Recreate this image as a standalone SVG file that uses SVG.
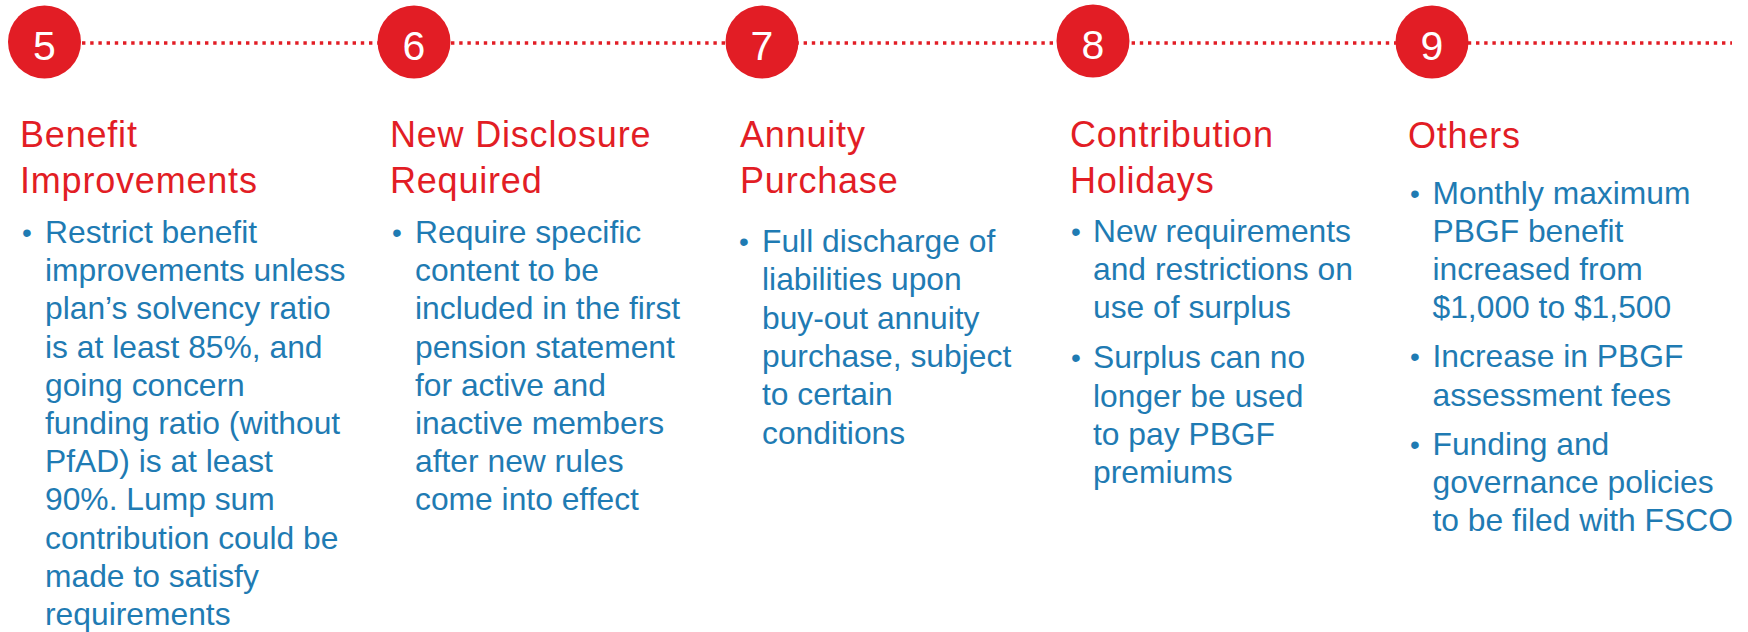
<svg xmlns="http://www.w3.org/2000/svg" width="1748" height="632" viewBox="0 0 1748 632">
  <style>
    .dot { fill: #E21D25; }
    .num { font-family: "Liberation Sans", Arial, sans-serif; font-size: 41px; fill: #FFFFFF; text-anchor: middle; }
    .head { font-family: "Liberation Sans", Arial, sans-serif; font-size: 36px; letter-spacing: 0.8px; fill: #E21D25; }
    .body { font-family: "Liberation Sans", Arial, sans-serif; font-size: 31.8px; fill: #1F7BB3; }
    .bul { font-family: "Liberation Sans", Arial, sans-serif; font-size: 28px; fill: #1F7BB3; }
    .timeline { stroke: #E21D25; stroke-width: 3.5; stroke-dasharray: 3.4 4.8; fill: none; }
  </style>
  <rect width="1748" height="632" fill="#FFFFFF"/>

  <!-- dotted timeline running behind the step markers -->
  <g id="connectors">
    <line class="timeline" x1="82" y1="43" x2="1732" y2="43"/>
  </g>

  <!-- step 5 -->
  <g id="step5">
    <circle class="dot" cx="44.5" cy="42" r="36.5"/>
    <text class="num" x="44.5" y="60">5</text>
    <text class="head"><tspan x="20" y="147">Benefit</tspan><tspan x="20" y="193">Improvements</tspan></text>
    <text class="bul" x="22" y="242">•</text>
    <text class="body">
      <tspan x="45" y="243">Restrict benefit</tspan>
      <tspan x="45" y="281.2">improvements unless</tspan>
      <tspan x="45" y="319.4">plan’s solvency ratio</tspan>
      <tspan x="45" y="357.6">is at least 85%, and</tspan>
      <tspan x="45" y="395.8">going concern</tspan>
      <tspan x="45" y="434">funding ratio (without</tspan>
      <tspan x="45" y="472.2">PfAD) is at least</tspan>
      <tspan x="45" y="510.4">90%. Lump sum</tspan>
      <tspan x="45" y="548.6">contribution could be</tspan>
      <tspan x="45" y="586.8">made to satisfy</tspan>
      <tspan x="45" y="625">requirements</tspan>
    </text>
  </g>

  <!-- step 6 -->
  <g id="step6">
    <circle class="dot" cx="414" cy="42" r="36.5"/>
    <text class="num" x="414" y="60">6</text>
    <text class="head"><tspan x="390" y="147">New Disclosure</tspan><tspan x="390" y="193">Required</tspan></text>
    <text class="bul" x="392" y="242">•</text>
    <text class="body">
      <tspan x="415" y="243">Require specific</tspan>
      <tspan x="415" y="281.2">content to be</tspan>
      <tspan x="415" y="319.4">included in the first</tspan>
      <tspan x="415" y="357.6">pension statement</tspan>
      <tspan x="415" y="395.8">for active and</tspan>
      <tspan x="415" y="434">inactive members</tspan>
      <tspan x="415" y="472.2">after new rules</tspan>
      <tspan x="415" y="510.4">come into effect</tspan>
    </text>
  </g>

  <!-- step 7 -->
  <g id="step7">
    <circle class="dot" cx="762" cy="42" r="36.5"/>
    <text class="num" x="762" y="60">7</text>
    <text class="head"><tspan x="740" y="147">Annuity</tspan><tspan x="740" y="193">Purchase</tspan></text>
    <text class="bul" x="739" y="251">•</text>
    <text class="body">
      <tspan x="762" y="252">Full discharge of</tspan>
      <tspan x="762" y="290.3">liabilities upon</tspan>
      <tspan x="762" y="328.6">buy-out annuity</tspan>
      <tspan x="762" y="366.9">purchase, subject</tspan>
      <tspan x="762" y="405.2">to certain</tspan>
      <tspan x="762" y="443.5">conditions</tspan>
    </text>
  </g>

  <!-- step 8 -->
  <g id="step8">
    <circle class="dot" cx="1093" cy="41" r="36.5"/>
    <text class="num" x="1093" y="59">8</text>
    <text class="head"><tspan x="1070" y="147">Contribution</tspan><tspan x="1070" y="193">Holidays</tspan></text>
    <text class="bul" x="1071" y="241">•</text>
    <text class="body">
      <tspan x="1093" y="242">New requirements</tspan>
      <tspan x="1093" y="280.2">and restrictions on</tspan>
      <tspan x="1093" y="318.4">use of surplus</tspan>
    </text>
    <text class="bul" x="1071" y="367.4">•</text>
    <text class="body">
      <tspan x="1093" y="368.4">Surplus can no</tspan>
      <tspan x="1093" y="406.6">longer be used</tspan>
      <tspan x="1093" y="444.8">to pay PBGF</tspan>
      <tspan x="1093" y="483">premiums</tspan>
    </text>
  </g>

  <!-- step 9 -->
  <g id="step9">
    <circle class="dot" cx="1432" cy="42" r="36.5"/>
    <text class="num" x="1432" y="60">9</text>
    <text class="head"><tspan x="1408" y="148">Others</tspan></text>
    <text class="bul" x="1410" y="202.5">•</text>
    <text class="body">
      <tspan x="1432.5" y="203.5">Monthly maximum</tspan>
      <tspan x="1432.5" y="241.7">PBGF benefit</tspan>
      <tspan x="1432.5" y="279.9">increased from</tspan>
      <tspan x="1432.5" y="318.1">$1,000 to $1,500</tspan>
    </text>
    <text class="bul" x="1410" y="366.3">•</text>
    <text class="body">
      <tspan x="1432.5" y="367.3">Increase in PBGF</tspan>
      <tspan x="1432.5" y="405.5">assessment fees</tspan>
    </text>
    <text class="bul" x="1410" y="454">•</text>
    <text class="body">
      <tspan x="1432.5" y="455">Funding and</tspan>
      <tspan x="1432.5" y="493.2">governance policies</tspan>
      <tspan x="1432.5" y="531.4">to be filed with FSCO</tspan>
    </text>
  </g>
</svg>
